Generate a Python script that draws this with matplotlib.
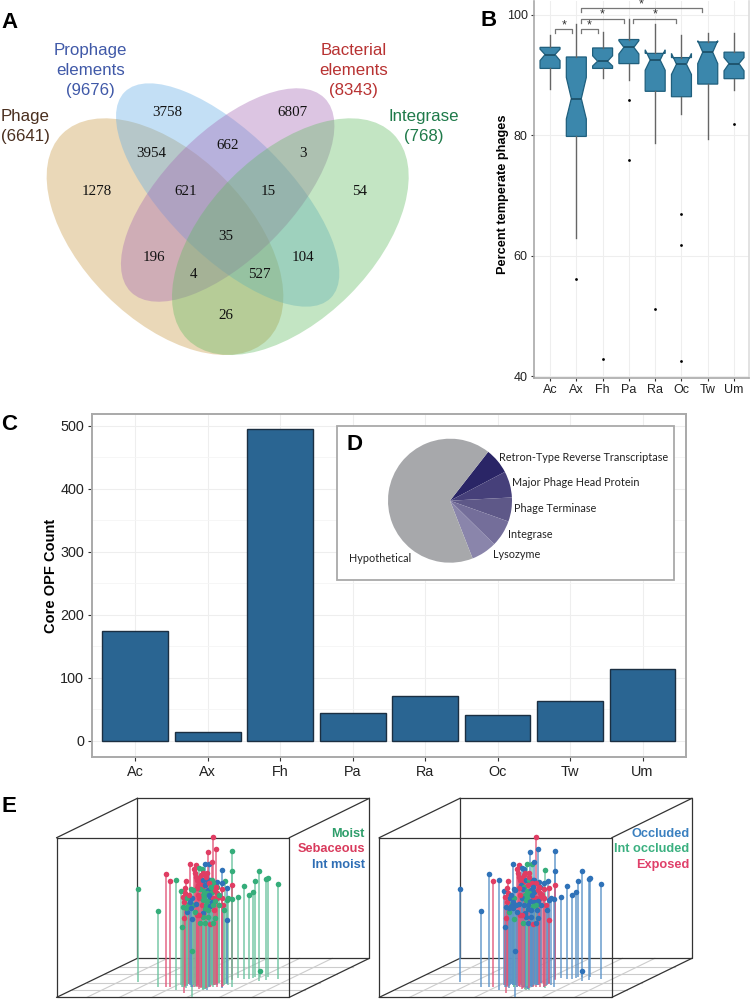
import matplotlib
matplotlib.use("Agg")
import matplotlib.pyplot as plt
from matplotlib.patches import Ellipse, Rectangle

plt.rcParams['font.family'] = ['Liberation Sans', 'DejaVu Sans']

W, H = 750, 1000
fig = plt.figure(figsize=(7.5, 10), dpi=100)


def px_axes(x0, y0, x1, y1, **kw):
    return fig.add_axes([x0 / W, 1 - y1 / H, (x1 - x0) / W, (y1 - y0) / H], **kw)


sites = ['Ac', 'Ax', 'Fh', 'Pa', 'Ra', 'Oc', 'Tw', 'Um']

# ---- Panel A data
venn_counts = ['3758', '6807', '3954', '662', '3', '1278', '621', '15', '54', '35', '196', '104', '4', '527', '26']
venn_x = [503, 877, 453, 684, 909, 291, 558, 804, 1078, 678, 461, 910, 579, 777, 679]
venn_y = [337, 337, 461, 436, 461, 574, 574, 574, 574, 710, 773, 773, 823, 823, 947]
venn_names = ['Prophage\nelements\n(9676)', 'Bacterial\nelements\n(8343)', 'Phage\n(6641)', 'Integrase\n(768)']

# ---- Panel B data
box_lo = [87.6, 63.0, 89.5, 89.2, 78.7, 83.5, 79.4, 87.5]
box_q1 = [91.1, 79.8, 91.1, 91.9, 87.3, 86.4, 88.5, 89.4]
box_med = [93.4, 86.1, 92.3, 94.6, 92.5, 91.8, 93.8, 91.9]
box_q3 = [94.6, 93.0, 94.5, 95.9, 93.6, 92.9, 95.5, 93.8]
box_hi = [96.6, 98.5, 97.2, 99.3, 98.5, 96.6, 97.0, 97.0]
box_ci_lo = [92.4, 82.7, 91.5, 93.5, 90.8, 90.1, 91.9, 90.7]
box_ci_hi = [94.3, 89.6, 93.2, 95.7, 94.2, 93.6, 95.7, 92.9]
box_fliers = [[], [56.1], [42.8], [85.8, 75.9], [51.1], [66.9, 61.7, 42.5], [], [81.8]]
bracket_from = [1.2, 2.17, 2.17, 4.17, 2.17]
bracket_to = [1.85, 2.83, 3.83, 5.8, 6.8]
bracket_level = [97.6, 97.6, 99.3, 99.3, 101.1]

# ---- Panel C data
core_opf = [174, 15, 494, 45, 72, 41, 64, 114]

# ---- Panel D data
pie_labels = ['Retron-Type Reverse Transcriptase', 'Major Phage Head Protein', 'Phage Terminase',
              'Integrase', 'Lysozyme', 'Hypothetical']
pie_sizes = [24.3, 24.7, 22.6, 25.0, 24.0, 239.4]
pie_colors = ['#2a2566', '#46407a', '#5e5888', '#746e9a', '#8a85ab', '#a7a8ab']

# ---- Panel E data
ord_x = [-67, -5, 18, 31, 48, 63, 77, 90, 93, 108, 118, 125, 134, 148, 155, 143, 160, 167, 217, 186, 217, 217,
         195, 185, 170, 172, 200, 185, 234, 252, 267, 280, 285, 297, 318, 323, 355, 299, 205, 215, 200, 200,
         190, 193, 96, 67, 71, 95, 80,
         68, 72, 75, 82, 88, 95, 100, 108, 84, 70, 78, 92,
         105, 108, 112, 103, 117, 122, 128, 140, 130, 140, 150, 155, 160, 115, 125, 135, 147, 120, 133, 145,
         155, 165, 172, 110, 128, 140, 150, 160, 172, 185, 118, 130, 142, 155, 165, 125, 137, 150, 160, 135,
         145, 128, 120, 135, 150, 160, 165, 112, 130, 145,
         74, 86, 98, 113, 123, 138, 152, 168, 178, 90, 104, 118, 133, 147, 163, 176]
ord_top = [176, 244, 131, 152, 150, 182, 152, 101, 178, 105, 115, 117, 103, 103, 95, 67, 22, 57, 64, 120, 122, 164,
           152, 158, 157, 172, 175, 178, 200, 168, 195, 186, 153, 123, 146, 144, 163, 422, 203, 207, 210, 271,
           225, 240, 363, 292, 263, 268, 245,
           200, 215, 190, 205, 222, 205, 225, 222, 228, 230, 235, 235,
           130, 140, 150, 118, 145, 155, 130, 130, 150, 150, 150, 150, 160, 165, 170, 165, 160, 177, 183, 180,
           185, 180, 190, 175, 195, 190, 200, 205, 205, 205, 205, 210, 212, 215, 212, 225, 225, 228, 225, 238,
           240, 250, 280, 278, 283, 278, 265, 255, 262, 262,
           175, 195, 180, 195, 135, 142, 170, 170, 195, 215, 245, 255, 200, 195, 240, 225]
ord_base = [457, 470, 470, 470, 480, 465, 465, 462, 472, 460, 466, 458, 470, 464, 462, 468, 460, 462, 440, 475, 448, 450,
            462, 470, 466, 458, 460, 462, 444, 448, 446, 444, 440, 452, 450, 442, 446, 442, 466, 470, 458, 462,
            468, 464, 500, 470, 490, 472, 468,
            466, 462, 470, 466, 460, 472, 464, 468, 462, 470, 474, 466,
            460, 468, 462, 470, 466, 474, 478, 470, 462, 480, 468, 464, 470, 466, 462, 476, 468, 472, 478, 464,
            460, 466, 470, 468, 476, 472, 466, 462, 460, 470, 472, 480, 468, 462, 466, 470, 474, 466, 462, 478,
            470, 472, 468, 476, 470, 464, 460, 470, 474, 468,
            468, 462, 466, 460, 470, 474, 466, 462, 460, 464, 470, 476, 468, 472, 464, 458]
site_moisture = list('GGRRGGRRGRGGBBRRRRGBGRGBBGBRGGGGGGGGGGGGGBRGGGRBB'[:49]) + \
    list('RRRGGBGBGGGB') + \
    list('RRRRRRRRBBBGGRRBRGGBGRRRGGBRRRRGGBGRGBGGGBGGRGGRGGR'[:50]) + \
    list('RRGRRRGRGBGRGBRG')
site_occlusion = list('BBBRBBRBBRBBGGBBRBBGBRBBBBRRBBBBBBBBBBBBBRRBBBRGG'[:49]) + \
    list('RRRBGGBBBBBB') + \
    list('RRRRRRRRBGBBRBGRRBGBBRRRGGRRRRBGBBBBBGGBBBGBRBBRBBB'[:50]) + \
    list('RBBRRRBRRBBRGBBB')
moisture_names = ['Moist', 'Sebaceous', 'Int moist']
occlusion_names = ['Occluded', 'Int occluded', 'Exposed']

SPINE = '#a9a9a9'
GRID = '#eeeeee'

# ---- Panel C
axc = px_axes(92.3, 414, 686, 756.7)
axc.bar(range(1, 9), core_opf, width=0.907, color='#2a6592', edgecolor='#1b2f42', linewidth=1.0, zorder=3)
axc.set_xlim(0.406, 8.6)
axc.set_ylim(-24.9, 518.5)
axc.set_xticks(range(1, 9), sites)
axc.set_yticks(range(0, 501, 100))
axc.set_yticks(range(50, 501, 100), minor=True)
axc.grid(True, which='major', color=GRID, lw=0.8, zorder=0)
axc.grid(True, which='minor', axis='y', color='#f5f5f5', lw=0.6, zorder=0)
axc.tick_params(axis='both', which='major', labelsize=10.4, length=3, width=0.8, color='#333333', pad=3,
                labelcolor='#222222')
axc.tick_params(axis='y', which='minor', length=0)
axc.set_ylabel('Core OPF Count', fontsize=10.5, fontweight='bold')
axc.yaxis.set_label_coords(-0.058, 0.528)
for s in axc.spines.values():
    s.set_color(SPINE)
    s.set_linewidth(1.4)

# ---- Panel B
axb = px_axes(534, 1, 749, 378)
stats = [dict(whislo=a, q1=b, med=c, q3=d, whishi=e, cilo=f, cihi=g, fliers=h, label=n)
         for a, b, c, d, e, f, g, h, n in zip(box_lo, box_q1, box_med, box_q3, box_hi,
                                              box_ci_lo, box_ci_hi, box_fliers, sites)]
axb.bxp(stats, positions=range(1, 9), widths=0.76, shownotches=True, patch_artist=True, showcaps=False,
        boxprops=dict(facecolor='#3b87ac', edgecolor='#1f5f7d', linewidth=0.9),
        medianprops=dict(color='#17485f', linewidth=1.1),
        whiskerprops=dict(color='#666666', linewidth=1.0),
        flierprops=dict(marker='o', markersize=2.0, markerfacecolor='black', markeredgewidth=0))
axb.set_xlim(0.39, 8.57)
axb.set_ylim(39.67, 102.3)
axb.set_yticks([40, 60, 80, 100])
axb.set_xticks(range(1, 9), sites)
axb.grid(True, color=GRID, lw=0.8)
axb.set_axisbelow(True)
axb.tick_params(axis='both', labelsize=9, length=2.5, width=0.8, color='#333333', pad=2, labelcolor='#222222')
axb.set_ylabel('Percent temperate phages', fontsize=9.2, fontweight='bold')
axb.yaxis.set_label_coords(-0.116, 0.488)
for s in axb.spines.values():
    s.set_color(SPINE)
    s.set_linewidth(1.2)
axb.spines['top'].set_visible(False)
axb.spines['right'].set_color('#dddddd')
for a, b, lev in zip(bracket_from, bracket_to, bracket_level):
    axb.plot([a, a, b, b], [lev - 0.6, lev, lev, lev - 0.6], color='#777777', lw=0.9, clip_on=False)
    axb.text((a + b) / 2, lev + 0.7, '*', ha='center', va='center', fontsize=9, color='#333333')

# ---- Panel A
axa = px_axes(0, 0, 480, 370, facecolor='none')
axa.set_xlim(0, 1440)
axa.set_ylim(1110, 0)
axa.axis('off')
for (cx, cy, a, b, ang, col) in [(495, 710, 436, 249, 45, '#c99a45'),
                                 (683, 585, 437, 183, 45, '#63ade6'),
                                 (683, 585, 411, 190, -45, '#a468b4'),
                                 (871, 710, 436, 249, -45, '#62bb62')]:
    axa.add_patch(Ellipse((cx, cy), 2 * a, 2 * b, angle=ang, facecolor=col, alpha=0.38, edgecolor='none'))
for n, x, y in zip(venn_counts, venn_x, venn_y):
    axa.text(x, y, n, ha='center', va='center', fontsize=10.8, family='Liberation Serif', color='#111111')
for name, x, y, ha, col in zip(venn_names, [272, 1061, 150, 1270], [212, 212, 380, 380],
                               ['center', 'center', 'right', 'center'],
                               ['#4059a8', '#b83232', '#4a2f1f', '#1f7a4a']):
    axa.text(x, y, name, ha=ha, va='center', fontsize=12.2, color=col, linespacing=1.42, multialignment='center')

# ---- Overlay (panel letters, inset box of D)
over = px_axes(0, 0, W, H, facecolor='none')
over.set_xlim(0, W)
over.set_ylim(H, 0)
over.axis('off')
over.add_patch(Rectangle((337, 426), 337, 154, facecolor='white', edgecolor=SPINE, lw=1.3))
for t, x, y in [('A', 9, 22), ('B', 489, 20), ('C', 9, 424), ('D', 355, 444), ('E', 9, 806)]:
    over.text(x, y, t, ha='center', va='center', fontsize=16, fontweight='bold', color='black')
for t, x, y in zip(pie_labels, [499.3, 511.7, 514, 507.7, 492.7, 349], [457.7, 482, 508.7, 534, 554, 558]):
    over.text(x, y, t, ha='left', va='center', fontsize=7.8, family='Lato', color='#222222')

# ---- Panel D
axd = px_axes(388, 438.7, 512, 562.7, facecolor='none')
axd.pie(pie_sizes, colors=pie_colors, startangle=52, counterclock=False, radius=1)
axd.set_xlim(-1, 1)
axd.set_ylim(-1, 1)


# ---- Panel E
def draw_ordination(shift, groups, names, label_cols, right):
    dots = {'G': '#35ad7a', 'R': '#e03d63', 'B': '#2f72b8'}
    stems = {'G': '#6cc3a0', 'R': '#e2587a', 'B': '#5b93c8'}
    ax = px_axes(shift, 790, 375 + shift, 1000, facecolor='none')
    ax.set_xlim(-480, 645)
    ax.set_ylim(510, -120)
    ax.axis('off')
    fx0, fx1, fy0, fy1 = -310, 388, 23, 502
    bx0, bx1, by0, by1 = -68, 628, -95, 385
    for v in (0.19, 0.38, 0.59, 0.79):
        ax.plot([fx0 + v * (bx0 - fx0), fx1 + v * (bx1 - fx1)], [fy1 + v * (by1 - fy1)] * 2, color='#cccccc', lw=0.8)
    for u in (0.13, 0.27, 0.41, 0.56, 0.70, 0.84):
        ax.plot([fx0 + u * (fx1 - fx0), bx0 + u * (bx1 - bx0)], [fy1, by1], color='#cccccc', lw=0.8)
    for (xs, ys) in [([bx0, bx1, bx1, bx0, bx0], [by0, by0, by1, by1, by0]),
                     ([fx0, fx1, fx1, fx0, fx0], [fy0, fy0, fy1, fy1, fy0]),
                     ([fx0, bx0], [fy0, by0]), ([fx1, bx1], [fy0, by0]),
                     ([fx0, bx0], [fy1, by1]), ([fx1, bx1], [fy1, by1])]:
        ax.plot(xs, ys, color='#333333', lw=0.9)
    for x, t, b, g in zip(ord_x, ord_top, ord_base, groups):
        ax.plot([x, x], [t, b], color=stems[g], lw=1.25, alpha=0.8, solid_capstyle='butt')
    for x, t, g in zip(ord_x, ord_top, groups):
        ax.plot(x, t, 'o', color=dots[g], ms=4.0, mew=0)
    for name, col, y in zip(names, label_cols, [13, 58, 104]):
        ax.text(right, y, name, ha='right', va='center', fontsize=9.2, fontweight='bold', color=col)


draw_ordination(0, site_moisture, moisture_names, ['#2e9e6b', '#d93a5c', '#2f6eb5'], 615)
draw_ordination(322.6, site_occlusion, occlusion_names, ['#3a80c0', '#3bb080', '#e0406a'], 620)

fig.savefig('out.png', dpi=100)
